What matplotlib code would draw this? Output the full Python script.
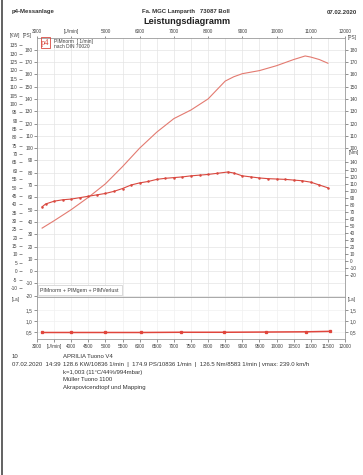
import matplotlib.pyplot as plt
from matplotlib.lines import Line2D
from matplotlib.patches import Rectangle

plt.switch_backend('Agg')
plt.rcParams['font.family'] = ['Liberation Sans', 'DejaVu Sans']
plt.rcParams['axes.unicode_minus'] = False

# Leistung [PS] ueber Drehzahl
rpm_power = [3150, 3500, 4000, 4500, 5000, 5500, 6000, 6500, 7000, 7500, 8000,
             8500, 8750, 9000, 9500, 10000, 10500, 10836, 11000, 11250, 11500]
power_ps = [35, 41, 50, 60, 71, 85, 100, 113, 124, 131, 140,
            154.5, 158, 160.5, 163, 167, 172, 174.9, 174, 172, 169]

# Drehmoment [Nm] ueber Drehzahl
rpm_torque = [3150, 3250, 3500, 3750, 4000, 4250, 4500, 4750, 5000, 5250, 5500,
              5750, 6000, 6250, 6500, 6750, 7000, 7250, 7500, 7750, 8000, 8250,
              8583, 8750, 9000, 9250, 9500, 9750, 10000, 10250, 10500, 10750,
              11000, 11250, 11500]
torque_nm = [77, 81, 85, 87, 88, 90, 92, 94, 96, 99, 103,
             108, 111, 113, 116, 117.5, 118.5, 119.5, 121, 122, 123, 124.5,
             126.5, 125, 121, 119.5, 118, 117, 116.5, 116, 115, 114,
             112, 108, 104]

# Lambda
rpm_lambda = [3150, 4000, 5000, 6050, 7200, 8450, 9700, 10850, 11550]
lambda_vals = [0.5, 0.5, 0.5, 0.5, 0.51, 0.51, 0.52, 0.53, 0.55]

top_ticks = [3000, 4000, 5000, 6000, 7000, 8000, 9000, 10000, 11000, 12000]
top_labels = ['3000', '[U/min]', '5000', '6000', '7000', '8000', '9000',
              '10000', '11000', '12000']
bottom_ticks = list(range(3000, 12001, 500))
bottom_labels = ['3000', '[U/min]'] + [str(t) for t in bottom_ticks[2:]]

ps_ticks = list(range(-20, 181, 10))
kw_ticks = list(range(-10, 136, 5))
ps_right_ticks = list(range(100, 181, 10))
nm_ticks = list(range(-20, 141, 10))
la_ticks = [0.5, 1.0, 1.5]
la_labels = ['0,5', '1,0', '1,5']

footer = [
    ('10', 'APRILIA Tuono V4'),
    ('07.02.2020  14:39', '128.6 KW/10836 1/min  |  174.9 PS/10836 1/min  |  '
                          '126.5 Nm/8583 1/min | vmax: 239.0 km/h'),
    ('', 'k=1,003 (11°C/44%/994mbar)'),
    ('', 'Müller Tuono 1100'),
    ('', 'Akrapovicendtopf und Mapping'),
]

TXT = '#404040'
RED = '#d9483f'
FS = 3.4


def main():
    W, H = 363, 475
    fig = plt.figure(figsize=(W / 100, H / 100), dpi=100)

    def fx(px):
        return px / W

    def fy(py):
        return 1 - py / H

    left, right = 37, 345
    ax = fig.add_axes([fx(left), fy(297), fx(right - left), fy(38) - fy(297)])
    axl = fig.add_axes([fx(left), fy(339), fx(right - left), fy(297) - fy(339)])

    # --- Hauptdiagramm ---
    ax.set_xlim(3000, 12000)
    ax.set_ylim(-21, 189.5)
    ax.set_xticks(bottom_ticks)
    ax.tick_params(axis='x', bottom=False, labelbottom=False)
    ax.set_yticks(ps_ticks)
    ax.set_yticklabels([str(t) for t in ps_ticks])
    ax.tick_params(axis='y', labelsize=FS, colors=TXT, length=2, width=0.4, pad=1)
    ax.grid(color='#e4e4e4', lw=0.5)
    for s in ax.spines.values():
        s.set_color('#9a9a9a')
        s.set_linewidth(0.6)

    ax.plot(rpm_power, power_ps, color='#e37a70', lw=0.8)

    # KW-Skala links
    kw = ax.secondary_yaxis(-0.05, functions=(lambda p: p * 0.7355,
                                               lambda k: k / 0.7355))
    kw.set_yticks(kw_ticks)
    kw.tick_params(labelsize=FS, colors=TXT, length=2, width=0.4, pad=1)
    kw.spines['left'].set_visible(False)

    # PS-Skala rechts
    psr = ax.secondary_yaxis('right')
    psr.set_yticks(ps_right_ticks)
    psr.tick_params(labelsize=FS, colors=TXT, length=2, width=0.4, pad=1.5)
    psr.spines['right'].set_visible(False)

    # Drehmoment-Achse rechts
    ax2 = ax.twinx()
    ax2.set_ylim(-51.1, 316.8)
    ax2.set_yticks(nm_ticks)
    ax2.tick_params(labelsize=FS, colors=TXT, length=2, width=0.4, pad=1.5)
    for s in ax2.spines.values():
        s.set_visible(False)
    ax2.plot(rpm_torque, torque_nm, color=RED, lw=0.8, marker='.', ms=1.6)

    # Obere Drehzahl-Achse
    top = ax.secondary_xaxis('top')
    top.set_xticks(top_ticks)
    top.set_xticklabels(top_labels)
    top.tick_params(labelsize=FS, colors=TXT, length=1.5, width=0.4, pad=1.5)
    top.spines['top'].set_visible(False)

    # Logo und Legende
    fig.add_artist(Rectangle((fx(41), fy(48)), fx(9), fy(37) - fy(48),
                             fill=False, ec=RED, lw=0.6))
    fig.text(fx(45.5), fy(43), 'p4', color=RED, fontsize=6, ha='center',
             va='center', family='Liberation Serif')
    fig.text(fx(54), fy(41), 'PIMnorm  [ 1/min]', fontsize=3.5, color=TXT,
             va='center')
    fig.text(fx(54), fy(46), 'nach DIN 70020', fontsize=3.5, color=TXT,
             va='center')

    ax.text(3100, -15.5, 'PIMnorm + PIMgem + PIMVerlust', fontsize=3.8,
            color=TXT, va='center',
            bbox=dict(boxstyle='square,pad=0.5', fc='white', ec='#cccccc',
                      lw=0.5))

    # --- Lambda-Diagramm ---
    axl.set_xlim(3000, 12000)
    axl.set_ylim(0.21, 2.08)
    axl.set_xticks(bottom_ticks)
    axl.set_xticklabels(bottom_labels)
    axl.set_yticks(la_ticks)
    axl.set_yticklabels(la_labels)
    axl.tick_params(labelsize=FS, colors=TXT, length=2, width=0.4, pad=1.5,
                    right=True, labelright=True)
    axl.grid(color='#f0f0f0', lw=0.5)
    for s in axl.spines.values():
        s.set_color('#9a9a9a')
        s.set_linewidth(0.6)
    axl.plot(rpm_lambda, lambda_vals, color='#e0453c', lw=1.1,
             marker='s', ms=1.4)

    # Einheiten
    fig.text(fx(10), fy(35.5), '[KW]', fontsize=FS, color=TXT, va='center')
    fig.text(fx(23), fy(35.5), '[PS]', fontsize=FS, color=TXT, va='center')
    fig.text(fx(348), fy(37), '[PS]', fontsize=FS, color=TXT, va='center')
    fig.text(fx(349), fy(153), '[Nm]', fontsize=FS, color=TXT, va='center')
    fig.text(fx(12), fy(300), '[La]', fontsize=FS, color=TXT, va='center')
    fig.text(fx(348), fy(300), '[La]', fontsize=FS, color=TXT, va='center')

    # Kopfzeile
    fig.text(fx(12), fy(12), 'p4-Messanlage', fontsize=4.3, color='#333333',
             va='center', weight='bold')
    fig.text(fx(186), fy(12), 'Fa. MGC Lamparth   73087 Boll', fontsize=4.3,
             color='#333333', va='center', ha='center', weight='bold')
    fig.text(fx(357), fy(12), '07.02.2020', fontsize=4.3, color='#333333',
             va='center', ha='right', weight='bold')
    fig.text(fx(187), fy(22), 'Leistungsdiagramm', fontsize=6.6, color='#222222',
             va='center', ha='center', weight='bold')

    # Fusszeile
    for i, (a, b) in enumerate(footer):
        y = fy(357 + i * 7.6)
        if a:
            fig.text(fx(12), y, a, fontsize=4.3, color='#333333', va='center')
        fig.text(fx(63), y, b, fontsize=4.3, color='#333333', va='center')

    fig.add_artist(Line2D([fx(1.5), fx(1.5)], [0, 1], color='#555555', lw=1.3))

    fig.savefig('out.png', dpi=100)
    plt.close(fig)


if __name__ == '__main__':
    main()
